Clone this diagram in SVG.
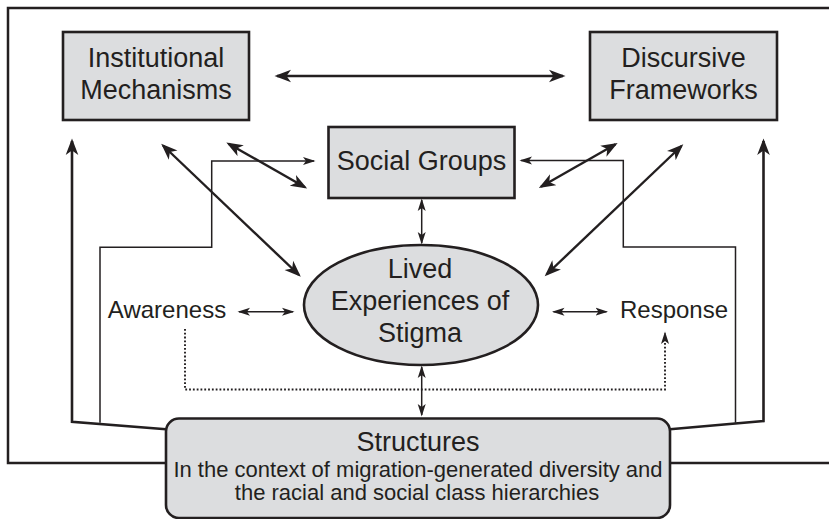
<svg xmlns="http://www.w3.org/2000/svg" width="829" height="519" viewBox="0 0 829 519">
<style>
.box{fill:#dcdddf;stroke:#231f20;stroke-width:2.6}
.t{font-family:"Liberation Sans",Arial,sans-serif;fill:#231f20;text-anchor:middle}
.big{font-size:27px}
.mid{font-size:24px}
.sub{font-size:22px}
.frame{fill:none;stroke:#231f20;stroke-width:2.5}
.thick{fill:none;stroke:#231f20;stroke-width:2.4}
.heavy{fill:none;stroke:#231f20;stroke-width:2.6}
.thin{fill:none;stroke:#231f20;stroke-width:1.5}
.dot{fill:none;stroke:#231f20;stroke-width:1.9;stroke-dasharray:1.8 2}
</style>
<defs>
<marker id="ah" markerUnits="userSpaceOnUse" markerWidth="20" markerHeight="14" viewBox="0 -7 20 14" refX="14" refY="0" orient="auto-start-reverse">
<path d="M16.5,0 L0,-6.3 L4.5,0 L0,6.3 Z" fill="#231f20"/>
</marker>
<marker id="as" markerUnits="userSpaceOnUse" markerWidth="14" markerHeight="10" viewBox="0 -5 14 10" refX="11" refY="0" orient="auto-start-reverse">
<path d="M12.5,0 L0,-4 L3,0 L0,4 Z" fill="#231f20"/>
</marker>
</defs>

<g id="frame">
<path class="frame" d="M829,8 H8 V463 H166"/>
<path class="frame" d="M670,463 H829"/>
</g>

<g id="connectors">
<path class="heavy" d="M166,429.3 L72,421.7 V141" marker-end="url(#ah)"/>
<path class="heavy" d="M670,429.3 L763.5,421 V141" marker-end="url(#ah)"/>
<path class="thin" d="M100,422.7 V247.3 H211.7 V161 H314" marker-end="url(#as)"/>
<path class="thin" d="M735.5,422.7 V247 H623.3 V160.5 H521" marker-end="url(#as)"/>
<path class="thick" d="M277,76 H563" marker-start="url(#ah)" marker-end="url(#ah)"/>
<path class="thick" d="M163,145.5 L299,275" marker-start="url(#ah)" marker-end="url(#ah)"/>
<path class="thick" d="M228.5,143.7 L305,187.3" marker-start="url(#ah)" marker-end="url(#ah)"/>
<path class="thick" d="M615.5,144.3 L541,186.7" marker-start="url(#ah)" marker-end="url(#ah)"/>
<path class="thick" d="M681.5,146 L546.5,274.5" marker-start="url(#ah)" marker-end="url(#ah)"/>
<path class="thin" d="M421.7,200 V243" marker-start="url(#as)" marker-end="url(#as)"/>
<path class="thin" d="M421.7,367 V415" marker-start="url(#as)" marker-end="url(#as)"/>
<path class="thin" d="M239,311.7 H293" marker-start="url(#as)" marker-end="url(#as)"/>
<path class="thin" d="M553.5,311.7 H606.5" marker-start="url(#as)" marker-end="url(#as)"/>
<path class="dot" d="M185,329 V389.5 H665 V333" marker-end="url(#as)"/>
</g>

<g id="institutional">
<rect class="box" x="63" y="32" width="186" height="88"/>
<text class="t big" x="156" y="67">Institutional</text>
<text class="t big" x="156" y="99">Mechanisms</text>
</g>

<g id="discursive">
<rect class="box" x="590" y="32" width="187" height="88"/>
<text class="t big" x="683.5" y="67">Discursive</text>
<text class="t big" x="683.5" y="99">Frameworks</text>
</g>

<g id="social-groups">
<rect class="box" x="328.5" y="127" width="186" height="71"/>
<text class="t big" x="421.5" y="170">Social Groups</text>
</g>

<g id="lived">
<ellipse class="box" cx="421" cy="305" rx="117" ry="60"/>
<text class="t big" x="420" y="278">Lived</text>
<text class="t big" x="420" y="310">Experiences of</text>
<text class="t big" x="420" y="342">Stigma</text>
</g>

<g id="awareness">
<text class="t mid" x="167" y="318">Awareness</text>
</g>

<g id="response">
<text class="t mid" x="674" y="318">Response</text>
</g>

<g id="structures">
<rect class="box" x="166" y="418.5" width="504" height="99.5" rx="13"/>
<text class="t big" x="418" y="451">Structures</text>
<text class="t sub" x="418" y="477">In the context of migration-generated diversity and</text>
<text class="t sub" x="417" y="500">the racial and social class hierarchies</text>
</g>
</svg>
